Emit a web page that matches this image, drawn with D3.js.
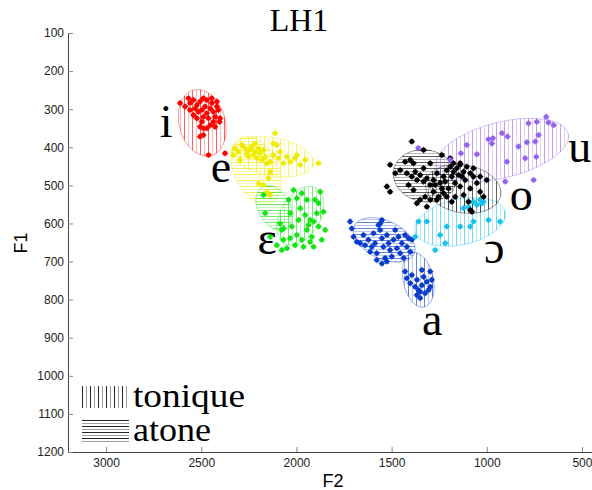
<!DOCTYPE html>
<html>
<head>
<meta charset="utf-8">
<script src="https://cdn.jsdelivr.net/npm/d3@7"></script>
<style>
  body { margin: 0; background: #fff; }
  .tick text { font-family: "Liberation Sans", Arial, sans-serif; font-size: 12px; fill: #222; }
</style>
</head>
<body>
<div id="chart"></div>
<script>
var width = 592, height = 490;

// axis ticks
var xTicks = [3000, 2500, 2000, 1500, 1000, 500];
var yTicks = [100, 200, 300, 400, 500, 600, 700, 800, 900, 1000, 1100, 1200];

// vowels and their colours
var vowels = ["i", "e", "ɛ", "a", "ɔ", "o", "u"];
var vowelColors = ["#ff0000", "#f0ec00", "#14e614", "#0b3dcc", "#17c2f0", "#000000", "#9664f0"];

// label positions (F2, F1) for each vowel
var labelF2 = [2685, 2396, 2154, 1287, 961, 819, 512];
var labelF1 = [373, 491, 680, 893, 703, 565, 439];

// measured points [F2, F1]
var ptsI = [[2611,284],[2585,293],[2567,271],[2559,284],[2541,276],[2532,298],[2523,289],[2515,307],
  [2506,280],[2497,302],[2489,271],[2489,320],[2480,293],[2471,276],[2471,311],[2462,324],[2453,298],
  [2445,284],[2436,307],[2427,320],[2418,293],[2410,302],[2401,324],[2404,333],[2497,333],[2506,346],
  [2506,372],[2489,350],[2471,350],[2453,342],[2436,333],[2462,420],[2375,416],[2541,315],[2523,324],
  [2559,302],[2418,280],[2445,271],[2489,368],[2427,346]];

var ptsE = [[2322,403],[2305,412],[2287,394],[2270,403],[2261,416],[2252,425],[2243,407],[2234,398],
  [2226,420],[2217,390],[2217,412],[2208,429],[2199,403],[2191,416],[2182,433],[2173,407],[2164,425],
  [2155,442],[2138,438],[2121,420],[2112,363],[2103,394],[2094,429],[2068,442],[2050,425],[2033,438],
  [2007,429],[1998,420],[1980,446],[1954,433],[1884,442],[2138,464],[2147,481],[2173,499],[2199,495],
  [2155,517],[2138,525],[2121,390],[2086,412],[2296,433],[2331,420]];

var ptsEps = [[2173,525],[2164,573],[2138,635],[2103,657],[2086,600],[2077,617],[2068,643],[2050,665],
  [2041,538],[2033,573],[2024,608],[2015,512],[2007,657],[1998,630],[1989,591],[1980,560],[1972,521],
  [1963,661],[1954,578],[1945,617],[1937,604],[1928,591],[1919,635],[1910,595],[1902,538],[1893,573],
  [1884,608],[1875,517],[1867,643],[1858,569],[1849,617],[1998,534],[2068,613],[2077,670],[1928,648],
  [1945,538],[1972,643],[2033,639],[1884,547],[1910,661]];

var ptsA = [[1718,595],[1709,613],[1700,635],[1683,648],[1665,652],[1648,630],[1639,657],[1622,643],
  [1613,674],[1604,661],[1595,626],[1587,652],[1578,678],[1569,604],[1560,617],[1551,639],[1543,661],
  [1534,691],[1525,630],[1516,652],[1508,670],[1499,687],[1490,643],[1481,617],[1472,665],[1464,635],
  [1455,678],[1446,652],[1437,691],[1429,630],[1420,661],[1411,639],[1402,674],[1394,643],[1560,600],
  [1551,591],[1578,696],[1551,705],[1525,700],
  [1429,726],[1420,744],[1402,757],[1394,735],[1376,766],[1367,788],[1359,775],[1350,796],[1341,762],
  [1332,740],[1324,783],[1315,753],[1306,775],[1297,726],[1297,766],[1289,748],[1341,722],[1367,748],
  [1350,779]];

var ptsOpen = [[1376,635],[1359,595],[1315,595],[1271,670],[1245,630],[1218,652],[1140,608],[1122,560],
  [1096,556],[1087,608],[1070,595],[1052,551],[1035,538],[1026,547],[991,591],[930,595],[1070,543],
  [1017,543],[1210,608]];

var ptsO = [[1394,385],[1332,407],[1236,420],[1508,446],[1525,503],[1508,517],[1429,438],[1402,433],
  [1385,442],[1420,468],[1394,477],[1367,486],[1350,473],[1332,490],[1315,481],[1297,499],[1280,486],
  [1262,468],[1245,494],[1227,477],[1210,460],[1192,451],[1175,442],[1157,455],[1140,446],[1122,464],
  [1105,451],[1087,468],[1070,477],[1113,486],[1140,503],[1166,494],[1184,477],[1201,508],[1227,521],
  [1253,530],[1280,517],[1297,538],[1324,530],[1350,538],[1367,547],[1315,556],[1262,538],[1210,530],
  [1184,543],[1122,525],[1087,508],[1096,543],[1078,569],[1035,517],[1017,530],[1148,473],[1218,490],
  [1332,455],[1297,442],[1376,464],[1166,530],[1236,508],[1070,455],[1131,477],[1175,464],[1271,499],
  [1385,512],[1411,499],[1455,460],[1481,468],[1052,494],[1000,486],[1140,442],[1192,429],[1087,565],
  [1035,477]];

var ptsU = [[781,337],[737,333],[688,320],[676,335],[649,342],[728,368],[920,363],[891,372],[991,379],
  [968,376],[973,390],[1105,394],[1052,418],[1136,416],[1192,433],[833,398],[789,387],[745,385],
  [740,425],[798,429],[894,438],[754,486],[903,490],[1360,402]];

var vowelPoints = [ptsI, ptsE, ptsEps, ptsA, ptsOpen, ptsO, ptsU];

// dispersion ellipses: [vowel index, type, centre F2, centre F1, radius F2 (Hz), radius F1 (Hz), tilt deg]
var ellipses = [
  [1, "atone",   2212, 460, 116, 94, -25],
  [2, "atone",   2117, 559,  84, 63, -30],
  [3, "atone",   1539, 643, 173, 50,  25],
  [5, "atone",   1324, 475, 168, 68,  10],
  [0, "tonique", 2495, 336, 121, 89, -15],
  [1, "tonique", 2128, 425, 221, 50,  10],
  [2, "tonique", 1980, 580, 105, 84,  30],
  [3, "tonique", 1360, 748,  79, 73, -12],
  [4, "tonique", 1140, 596, 242, 60, -12],
  [5, "tonique", 1124, 509, 200, 63,  10],
  [6, "tonique",  919, 407, 357, 73, -14]
];

var legendLabels = ["tonique", "atone"];

var svg = d3.select("#chart")
    .append("svg")
    .attr("width", width)
    .attr("height", height);

var x = d3.scaleLinear().domain([3200, 400]).range([68, 601]);
var y = d3.scaleLinear().domain([100, 1200]).range([33, 452]);

// hatch patterns, one vertical (tonique) and one horizontal (atone) per colour
var defs = svg.append("defs");
function makePatterns(id, color, op) {
  var pv = defs.append("pattern").attr("id", "v-" + id)
      .attr("patternUnits", "userSpaceOnUse").attr("width", 8).attr("height", 8);
  pv.append("line").attr("x1", 0.5).attr("x2", 0.5).attr("y1", 0).attr("y2", 8)
      .attr("stroke", color).attr("stroke-width", 0.9).attr("stroke-opacity", op);
  pv.append("line").attr("x1", 4.5).attr("x2", 4.5).attr("y1", 0).attr("y2", 8)
      .attr("stroke", color).attr("stroke-width", 0.8).attr("stroke-opacity", op * 0.5);
  var ph = defs.append("pattern").attr("id", "h-" + id)
      .attr("patternUnits", "userSpaceOnUse").attr("width", 8).attr("height", 6);
  ph.append("line").attr("y1", 0.5).attr("y2", 0.5).attr("x1", 0).attr("x2", 8)
      .attr("stroke", color).attr("stroke-width", 0.9).attr("stroke-opacity", op);
  ph.append("line").attr("y1", 3.5).attr("y2", 3.5).attr("x1", 0).attr("x2", 8)
      .attr("stroke", color).attr("stroke-width", 0.8).attr("stroke-opacity", op * 0.5);
}
vowelColors.forEach(function(c, i) { makePatterns(i, c, 0.7); });
makePatterns("legend", "#000", 0.95);

// ellipse outline as a path in screen space, so the hatching stays axis aligned
var line = d3.line().curve(d3.curveLinearClosed);
function ellipsePath(e) {
  var cx = x(e[2]), cy = y(e[3]);
  var rx = x(e[2] - e[4]) - cx, ry = y(e[3] + e[5]) - cy;
  var a = e[6] * Math.PI / 180;
  var pts = d3.range(0, 72).map(function(k) {
    var t = k / 72 * 2 * Math.PI;
    return [cx + rx * Math.cos(t) * Math.cos(a) - ry * Math.sin(t) * Math.sin(a),
            cy + rx * Math.cos(t) * Math.sin(a) + ry * Math.sin(t) * Math.cos(a)];
  });
  return line(pts);
}

svg.append("g").selectAll("path")
    .data(ellipses)
    .enter()
    .append("path")
    .attr("d", ellipsePath)
    .attr("fill", function(e) { return "url(#" + (e[1] == "tonique" ? "v-" : "h-") + e[0] + ")"; })
    .attr("stroke", function(e) { return vowelColors[e[0]]; })
    .attr("stroke-opacity", 0.5)
    .attr("stroke-width", 0.8);

// points
vowelPoints.forEach(function(data, i) {
  var color = vowelColors[i];
  var gp = svg.append("g");
  gp.selectAll("circle").data(data).enter().append("circle")
      .attr("cx", function(d) { return x(d[0]); })
      .attr("cy", function(d) { return y(d[1]); })
      .attr("r", 2.5)
      .attr("fill", color);
  gp.selectAll("path").data(data).enter().append("path")
      .attr("d", function(d) {
        return "M" + (x(d[0]) - 3.2) + "," + y(d[1]) + "h6.4M" + x(d[0]) + "," + (y(d[1]) - 3.2) + "v6.4";
      })
      .attr("stroke", color)
      .attr("stroke-width", 0.8);
});

// vowel labels
svg.append("g").selectAll("text")
    .data(vowels)
    .enter()
    .append("text")
    .attr("x", function(d, i) { return x(labelF2[i]); })
    .attr("y", function(d, i) { return y(labelF1[i]); })
    .attr("text-anchor", "middle")
    .attr("font-family", "'Liberation Serif', 'Times New Roman', serif")
    .attr("font-size", 46)
    .text(function(d) { return d; });

// axes
var fmt = d3.format("d");
var xAxis = svg.append("g")
    .attr("transform", "translate(0," + y.range()[1] + ")")
    .call(d3.axisBottom(x).tickValues(xTicks).tickFormat(fmt).tickSizeInner(-5).tickSizeOuter(0).tickPadding(6));
var yAxis = svg.append("g")
    .attr("transform", "translate(" + x.range()[0] + ",0)")
    .call(d3.axisLeft(y).tickValues(yTicks).tickFormat(fmt).tickSizeInner(-5).tickSizeOuter(0).tickPadding(4));
[xAxis, yAxis].forEach(function(ax) {
  ax.select(".domain").attr("stroke", "#444");
  ax.selectAll(".tick line").attr("stroke", "#888");
});

svg.append("text")
    .attr("x", 333).attr("y", 487)
    .attr("text-anchor", "middle")
    .attr("font-family", "'Liberation Sans', Arial, sans-serif")
    .attr("font-size", 18)
    .text("F2");
svg.append("text")
    .attr("transform", "translate(27,243) rotate(-90)")
    .attr("text-anchor", "middle")
    .attr("font-family", "'Liberation Sans', Arial, sans-serif")
    .attr("font-size", 18)
    .text("F1");

// title
svg.append("text")
    .attr("x", 299).attr("y", 31)
    .attr("text-anchor", "middle")
    .attr("font-family", "'Liberation Serif', 'Times New Roman', serif")
    .attr("font-size", 32)
    .text("LH1");

// legend
var legend = svg.append("g").selectAll("g")
    .data(legendLabels)
    .enter()
    .append("g")
    .attr("transform", function(d, i) { return "translate(82," + (386 + i * 34) + ")"; });
legend.append("rect")
    .attr("width", 47).attr("height", 22)
    .attr("fill", function(d, i) { return i == 0 ? "url(#v-legend)" : "url(#h-legend)"; });
legend.append("text")
    .attr("x", 51).attr("y", 21)
    .attr("font-family", "'Liberation Serif', 'Times New Roman', serif")
    .attr("font-size", 33)
    .attr("textLength", function(d, i) { return i == 0 ? 112 : 78; })
    .attr("lengthAdjust", "spacingAndGlyphs")
    .text(function(d) { return d; });
</script>
</body>
</html>
